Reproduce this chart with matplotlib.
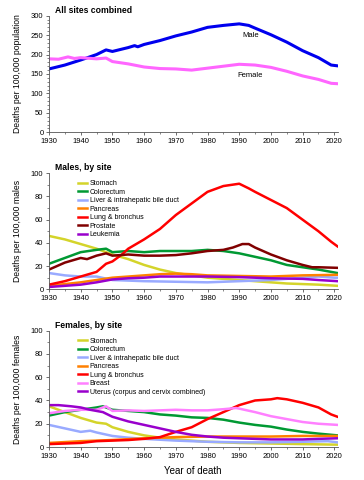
import numpy as np
import matplotlib.pyplot as plt
from matplotlib.ticker import MultipleLocator

plt.rcParams['font.family'] = ['Liberation Sans', 'DejaVu Sans']

# --- All sites combined ---
yrs_all_m = [1930, 1935, 1940, 1945, 1948, 1950, 1955, 1957, 1958, 1960, 1965, 1970,
             1975, 1980, 1985, 1990, 1993, 1995, 2000, 2005, 2010, 2015, 2019, 2021]
all_male = [163, 173, 186, 200, 212, 208, 218, 223, 220, 226, 236, 248,
            258, 270, 275, 279, 275, 268, 251, 232, 210, 192, 173, 171]
yrs_all_f = [1930, 1933, 1936, 1938, 1940, 1945, 1948, 1950, 1955, 1960, 1965, 1970,
             1975, 1980, 1985, 1990, 1995, 2000, 2005, 2010, 2015, 2019, 2021]
all_female = [189, 188, 194, 190, 192, 189, 191, 182, 176, 168, 164, 163,
              160, 165, 170, 175, 173, 167, 157, 145, 136, 126, 125]

# --- Males, by site ---
m_stomach_x = [1930, 1935, 1940, 1945, 1950, 1955, 1960, 1965, 1970, 1975, 1980, 1985,
               1990, 1995, 2000, 2005, 2010, 2015, 2021]
m_stomach = [46, 43, 39, 35, 30, 26, 21, 17, 14, 12, 10, 9, 8, 7, 6, 5, 4.5, 4, 3]
m_colo_x = [1930, 1935, 1940, 1945, 1948, 1950, 1955, 1960, 1965, 1970, 1975, 1980,
            1985, 1990, 1995, 2000, 2005, 2010, 2015, 2021]
m_colo = [22, 27, 32, 34, 35, 32, 33, 32, 33, 33, 33, 34, 33, 31, 28, 25, 21, 19, 17, 14]
m_liver_x = [1930, 1935, 1940, 1945, 1950, 1955, 1960, 1970, 1980, 1990, 2000, 2005,
             2010, 2015, 2020, 2021]
m_liver = [14, 12, 11, 11, 8, 7.5, 7, 6.5, 6, 7, 8, 9, 10, 11, 10, 10]
m_panc_x = [1930, 1940, 1945, 1950, 1955, 1960, 1965, 1970, 1975, 1980, 1990, 2000, 2010, 2021]
m_panc = [3, 6, 8, 10, 11, 12, 13, 13.5, 13, 12, 11.5, 11, 12, 12.5]
m_lung_x = [1930, 1935, 1940, 1945, 1948, 1950, 1953, 1955, 1960, 1965, 1970, 1975,
            1980, 1985, 1990, 1993, 1995, 2000, 2005, 2010, 2015, 2019, 2021]
m_lung = [4, 7, 11, 15, 22, 24, 30, 35, 43, 52, 64, 74, 84, 89, 91, 87, 84, 77, 70, 60, 50, 41, 37]
m_prost_x = [1930, 1935, 1940, 1942, 1945, 1948, 1950, 1955, 1960, 1965, 1970, 1975,
             1980, 1985, 1988, 1991, 1993, 1995, 2000, 2005, 2010, 2013, 2015, 2021]
m_prost = [17, 23, 27, 26, 29, 31, 29, 30, 29, 29, 29.5, 31, 33, 34, 36, 39, 39, 36,
           30, 25, 21, 19, 19, 18.5]
m_leuk_x = [1930, 1940, 1945, 1950, 1955, 1960, 1965, 1970, 1980, 1990, 2000, 2010, 2015, 2021]
m_leuk = [2, 4, 6, 8.5, 9.5, 10, 11, 11, 11, 10.5, 9.5, 9, 8, 7]

# --- Females, by site ---
f_stomach_x = [1930, 1935, 1940, 1945, 1948, 1950, 1955, 1960, 1965, 1970, 1980, 1990,
               2000, 2010, 2021]
f_stomach = [35, 30, 25, 21, 20, 17, 13, 10, 8, 6.5, 4.5, 3.5, 3, 2.5, 2]
f_colo_x = [1930, 1935, 1940, 1945, 1947, 1950, 1955, 1960, 1965, 1970, 1975, 1980,
            1985, 1990, 1995, 2000, 2005, 2010, 2015, 2021]
f_colo = [27, 30, 32, 34, 35, 32, 31, 30, 28, 27, 25.5, 25, 23.5, 21, 19, 17.5, 15, 13, 11.5, 10]
f_liver_x = [1930, 1935, 1940, 1943, 1945, 1950, 1955, 1960, 1970, 1980, 1990, 2000,
             2010, 2018, 2021]
f_liver = [19, 16, 13, 14, 12.5, 9.5, 8, 7, 5.5, 4.5, 4, 4, 4.5, 5, 4]
f_panc_x = [1930, 1940, 1950, 1960, 1970, 1980, 1990, 2000, 2010, 2021]
f_panc = [3.5, 5, 6, 7.5, 8.5, 9, 9, 9, 9.5, 9.5]
f_lung_x = [1930, 1940, 1945, 1950, 1955, 1960, 1965, 1970, 1975, 1980, 1985, 1990,
            1995, 2000, 2002, 2005, 2010, 2015, 2019, 2021]
f_lung = [2.5, 3.5, 5, 5.5, 6, 7, 8.5, 13, 17, 24, 30, 36, 40, 41, 42, 41, 38, 34, 28, 26]
f_breast_x = [1930, 1935, 1940, 1945, 1948, 1950, 1955, 1960, 1965, 1970, 1975, 1980,
              1985, 1989, 1990, 1995, 2000, 2005, 2010, 2015, 2021]
f_breast = [29, 31, 32, 32, 35, 31, 31.5, 31, 31.5, 32, 31.5, 31.5, 32.5, 33.5, 33,
            30, 26.5, 24, 21.5, 20, 19]
f_uterus_x = [1930, 1933, 1937, 1940, 1943, 1947, 1950, 1955, 1960, 1965, 1970, 1975,
              1980, 1985, 1990, 1995, 2000, 2010, 2015, 2021]
f_uterus = [36, 36, 35, 34, 32, 30, 26, 22, 19, 16, 13, 10.5, 9, 8, 7.5, 7, 6.5, 6.5, 7, 7.5]

C_STOMACH = '#d4d42a'
C_COLO = '#009933'
C_LIVER = '#99aaff'
C_PANC = '#ff8000'
C_LUNG = '#ff0000'
C_PROST = '#800000'
C_LEUK = '#9900cc'
C_BREAST = '#ff80ff'

fig = plt.figure(figsize=(3.64, 4.8), dpi=100)
ax1 = fig.add_axes([0.1346, 0.7244, 0.7926, 0.2429])
ax2 = fig.add_axes([0.1346, 0.3973, 0.7926, 0.2417])
ax3 = fig.add_axes([0.1346, 0.06875, 0.7926, 0.2423])


def style(ax, ymax, major, ylabel, title):
    ax.set_xlim(1930, 2021)
    ax.set_ylim(0, ymax)
    ax.xaxis.set_major_locator(MultipleLocator(10))
    ax.xaxis.set_minor_locator(MultipleLocator(5))
    ax.yaxis.set_major_locator(MultipleLocator(major))
    ax.yaxis.set_minor_locator(MultipleLocator(10))
    for s in ['top', 'right']:
        ax.spines[s].set_visible(False)
    for s in ['left', 'bottom']:
        ax.spines[s].set_color('#555555')
        ax.spines[s].set_linewidth(0.6)
    ax.tick_params(which='major', length=2.5, width=0.6, labelsize=5.5, pad=1.5, color='#555555')
    ax.tick_params(which='minor', length=1.5, width=0.5, color='#555555')
    ax.set_ylabel(ylabel, fontsize=6.2)
    ax.yaxis.set_label_coords(-0.095, 0.5)
    ax.text(0.02, 1.01, title, transform=ax.transAxes, fontsize=6.2, fontweight='bold',
            va='bottom', ha='left')


lw = 1.8
ax1.plot(yrs_all_m, all_male, color='#0000ee', lw=2.2)
ax1.plot(yrs_all_f, all_female, color='#ff66ff', lw=2.2)
ax1.text(1991, 250, 'Male', fontsize=5.5, va='center')
ax1.text(1989.5, 147, 'Female', fontsize=5.5, va='center')
style(ax1, 300, 50, 'Deaths per 100,000 population', 'All sites combined')

ax2.plot(m_stomach_x, m_stomach, color=C_STOMACH, lw=lw, label='Stomach')
ax2.plot(m_colo_x, m_colo, color=C_COLO, lw=lw, label='Colorectum')
ax2.plot(m_liver_x, m_liver, color=C_LIVER, lw=lw, label='Liver & intrahepatic bile duct')
ax2.plot(m_panc_x, m_panc, color=C_PANC, lw=lw, label='Pancreas')
ax2.plot(m_lung_x, m_lung, color=C_LUNG, lw=lw, label='Lung & bronchus')
ax2.plot(m_prost_x, m_prost, color=C_PROST, lw=lw, label='Prostate')
ax2.plot(m_leuk_x, m_leuk, color=C_LEUK, lw=lw, label='Leukemia')
style(ax2, 100, 20, 'Deaths per 100,000 males', 'Males, by site')
ax2.legend(loc='upper left', bbox_to_anchor=(0.09, 0.97), frameon=False, fontsize=5,
           handlelength=1.3, handletextpad=0.3, labelspacing=0.22, borderpad=0)

ax3.plot(f_stomach_x, f_stomach, color=C_STOMACH, lw=lw, label='Stomach')
ax3.plot(f_colo_x, f_colo, color=C_COLO, lw=lw, label='Colorectum')
ax3.plot(f_liver_x, f_liver, color=C_LIVER, lw=lw, label='Liver & intrahepatic bile duct')
ax3.plot(f_panc_x, f_panc, color=C_PANC, lw=lw, label='Pancreas')
ax3.plot(f_lung_x, f_lung, color=C_LUNG, lw=lw, label='Lung & bronchus')
ax3.plot(f_breast_x, f_breast, color=C_BREAST, lw=lw, label='Breast')
ax3.plot(f_uterus_x, f_uterus, color=C_LEUK, lw=lw, label='Uterus (corpus and cervix combined)')
style(ax3, 100, 20, 'Deaths per 100,000 females', 'Females, by site')
ax3.legend(loc='upper left', bbox_to_anchor=(0.09, 0.97), frameon=False, fontsize=5,
           handlelength=1.3, handletextpad=0.3, labelspacing=0.22, borderpad=0)
ax3.set_xlabel('Year of death', fontsize=7, labelpad=5)

fig.savefig('out.png', dpi=100)
